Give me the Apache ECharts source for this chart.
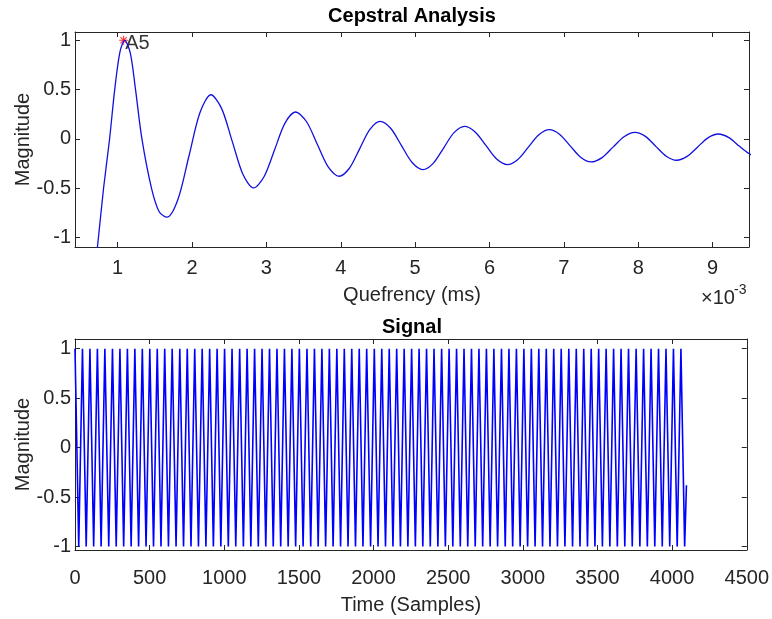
<!DOCTYPE html>
<html>
<head>
<meta charset="utf-8">
<script src="https://cdn.jsdelivr.net/npm/echarts@6/dist/echarts.min.js"></script>
<style>
html,body{margin:0;padding:0;background:#fff;}
#chart{width:772px;height:619px;}
</style>
</head>
<body>
<div id="chart"></div>
<script>
// ---- Cepstral Analysis (top): points ----
var cepX = [0.65,0.73,0.81,0.891,0.96,1.03,1.095,1.17,1.24,1.326,1.455,1.56,1.663,
  1.811,1.9585,2.106,2.254,2.397,2.5405,2.684,2.827,2.968,3.109,3.25,3.391,
  3.538,3.6845,3.831,3.978,4.116,4.254,4.392,4.530,4.673,4.8165,4.960,5.103,
  5.243,5.383,5.523,5.663,5.8075,5.952,6.0965,6.241,6.382,6.523,6.664,6.805,
  6.945,7.0855,7.226,7.366,7.514,7.6615,7.809,7.957,8.097,8.237,8.377,8.517,
  8.657,8.797,8.937,9.077,9.22,9.362,9.489,9.6];
var cepY = [-1.6,-1.08,-0.5,0,0.5,0.88,1.0,0.87,0.5,0,-0.5,-0.74,-0.793,
  -0.611,-0.173,0.266,0.448,0.310,-0.024,-0.358,-0.496,-0.383,-0.112,0.160,0.273,
  0.177,-0.053,-0.283,-0.378,-0.297,-0.1,0.097,0.178,0.106,-0.067,-0.239,-0.311,
  -0.247,-0.092,0.064,0.128,0.071,-0.066,-0.203,-0.26,-0.208,-0.083,0.042,0.094,
  0.046,-0.07,-0.185,-0.233,-0.189,-0.083,0.023,0.067,0.026,-0.075,-0.175,-0.216,
  -0.177,-0.083,0.011,0.05,0.013,-0.075,-0.148,-0.19];
var peakX = [1.08];
var peakY = [1.0];
var peakLabel = ['A5'];
var cepTicks = [1,2,3,4,5,6,7,8,9];
var magTicks = [-1,-0.5,0,0.5,1];

// ---- Signal (bottom): extrema ----
var sigT = [
0,25,50,75,100,125,150,175,200,226,
251,276,301,326,351,376,401,426,451,476,
501,526,551,576,601,626,651,677,702,727,
752,777,802,827,852,877,902,927,952,977,
1002,1027,1052,1077,1103,1128,1153,1178,1203,1228,
1253,1278,1303,1328,1353,1378,1403,1428,1453,1478,
1503,1528,1554,1579,1604,1629,1654,1679,1704,1729,
1754,1779,1804,1829,1854,1879,1904,1929,1954,1980,
2005,2030,2055,2080,2105,2130,2155,2180,2205,2230,
2255,2280,2305,2330,2355,2380,2405,2431,2456,2481,
2506,2531,2556,2581,2606,2631,2656,2681,2706,2731,
2756,2781,2806,2831,2857,2882,2907,2932,2957,2982,
3007,3032,3057,3082,3107,3132,3157,3182,3207,3232,
3257,3282,3308,3333,3358,3383,3408,3433,3458,3483,
3508,3533,3558,3583,3608,3633,3658,3683,3708,3733,
3759,3784,3809,3834,3859,3884,3909,3934,3959,3984,
4009,4034,4059,4084,4096];
var sigV = [
1,-1,1,-1,1,-1,1,-1,1,-1,
1,-1,1,-1,1,-1,1,-1,1,-1,
1,-1,1,-1,1,-1,1,-1,1,-1,
1,-1,1,-1,1,-1,1,-1,1,-1,
1,-1,1,-1,1,-1,1,-1,1,-1,
1,-1,1,-1,1,-1,1,-1,1,-1,
1,-1,1,-1,1,-1,1,-1,1,-1,
1,-1,1,-1,1,-1,1,-1,1,-1,
1,-1,1,-1,1,-1,1,-1,1,-1,
1,-1,1,-1,1,-1,1,-1,1,-1,
1,-1,1,-1,1,-1,1,-1,1,-1,
1,-1,1,-1,1,-1,1,-1,1,-1,
1,-1,1,-1,1,-1,1,-1,1,-1,
1,-1,1,-1,1,-1,1,-1,1,-1,
1,-1,1,-1,1,-1,1,-1,1,-1,
1,-1,1,-1,1,-1,1,-1,1,-1,
1,-1,1,-1,-0.38];
var timeTickStep = 500;

var AX = '#262626';
var FONT = 'Liberation Sans, Arial, sans-serif';
var FS = 20;

function zip(a, b) { var r = []; for (var i = 0; i < a.length; i++) r.push([a[i], b[i]]); return r; }

var asterisk = 'path://M-0.12,-1L0.12,-1L0.12,1L-0.12,1Z' +
  'M-1,-0.12L1,-0.12L1,0.12L-1,0.12Z' +
  'M-0.79,-0.62L-0.62,-0.79L0.79,0.62L0.62,0.79Z' +
  'M0.62,-0.79L0.79,-0.62L-0.62,0.79L-0.79,0.62Z';

function merge(a, opts) {
  for (var k in opts) {
    if (opts[k] && typeof opts[k] === 'object' && !Array.isArray(opts[k]) && a[k]) {
      for (var j in opts[k]) a[k][j] = opts[k][j];
    } else a[k] = opts[k];
  }
  return a;
}
function xAx(grid, pos, min, max, opts) {
  var labelOn = pos === 'bottom';
  var a = {
    type: 'value', gridIndex: grid, position: pos, min: min, max: max,
    axisLine: { show: true, onZero: false, lineStyle: { color: AX, width: 1 } },
    axisTick: { show: true, inside: true, length: 5, lineStyle: { color: AX } },
    axisLabel: { show: labelOn, color: AX, fontSize: FS, fontFamily: FONT, margin: 11,
                 formatter: function (v) { return String(v); } },
    splitLine: { show: false },
    nameMoveOverlap: false
  };
  return merge(a, opts);
}
function yAx(grid, pos, min, max, opts) {
  var labelOn = pos === 'left';
  var a = {
    type: 'value', gridIndex: grid, position: pos, min: min, max: max,
    axisLine: { show: true, onZero: false, lineStyle: { color: AX, width: 1 } },
    axisTick: { show: true, inside: true, length: 5, lineStyle: { color: AX }, customValues: magTicks },
    axisLabel: { show: labelOn, color: AX, fontSize: FS, fontFamily: FONT, margin: 4, customValues: magTicks,
                 formatter: function (v) { return String(v); } },
    splitLine: { show: false },
    nameMoveOverlap: false
  };
  if (labelOn) {
    a.name = 'Magnitude';
    a.nameLocation = 'middle';
    a.nameGap = 42;
    a.nameTextStyle = { color: AX, fontSize: FS, fontFamily: FONT };
  }
  return merge(a, opts);
}

var chart = echarts.init(document.getElementById('chart'), null, { renderer: 'canvas' });
chart.setOption({
  animation: false,
  backgroundColor: '#ffffff',
  title: [
    { text: 'Cepstral Analysis', left: 412, top: 6, padding: 0, textAlign: 'center',
      textStyle: { fontSize: FS, fontWeight: 'bold', color: '#000', fontFamily: FONT } },
    { text: 'Signal', left: 412, top: 317, padding: 0, textAlign: 'center',
      textStyle: { fontSize: FS, fontWeight: 'bold', color: '#000', fontFamily: FONT } },
    { text: '\u00d710', left: 701, top: 288, padding: 0,
      textStyle: { fontSize: FS, fontWeight: 'normal', color: AX, fontFamily: FONT } },
    { text: '-3', left: 734, top: 283, padding: 0,
      textStyle: { fontSize: 14, fontWeight: 'normal', color: AX, fontFamily: FONT } }
  ],
  grid: [
    { left: 75, top: 32, width: 674, height: 215, containLabel: false },
    { left: 75, top: 339, width: 674, height: 211, containLabel: false }
  ],
  xAxis: [
    xAx(0, 'bottom', 0.426, 9.49, {
      axisTick: { customValues: cepTicks }, axisLabel: { customValues: cepTicks },
      name: 'Quefrency (ms)', nameLocation: 'middle', nameGap: 38,
      nameTextStyle: { color: AX, fontSize: FS, fontFamily: FONT }
    }),
    xAx(0, 'top', 0.426, 9.49, { axisTick: { customValues: cepTicks } }),
    xAx(1, 'bottom', 0, 4500, {
      interval: timeTickStep, axisLabel: { margin: 18 },
      name: 'Time (Samples)', nameLocation: 'middle', nameGap: 45,
      nameTextStyle: { color: AX, fontSize: FS, fontFamily: FONT }
    }),
    xAx(1, 'top', 0, 4500, { interval: timeTickStep })
  ],
  yAxis: [
    yAx(0, 'left', -1.095, 1.084, {}),
    yAx(0, 'right', -1.095, 1.084, {}),
    yAx(1, 'left', -1.035, 1.098, {}),
    yAx(1, 'right', -1.035, 1.098, {})
  ],
  series: [
    { type: 'line', xAxisIndex: 0, yAxisIndex: 0, data: zip(cepX, cepY),
      showSymbol: false, smooth: 0.3, clip: true,
      lineStyle: { color: '#1010e0', width: 1.3 }, silent: true },
    { type: 'scatter', xAxisIndex: 0, yAxisIndex: 0,
      data: peakX.map(function (x, i) { return { value: [x, peakY[i]], name: peakLabel[i] }; }),
      symbol: asterisk, symbolSize: 9, itemStyle: { color: '#ff0000' },
      label: { show: true, position: 'right', distance: -3, offset: [0, 3], formatter: '{b}',
               color: '#000', fontSize: FS, fontFamily: FONT }, silent: true },
    { type: 'line', xAxisIndex: 2, yAxisIndex: 2, data: zip(sigT, sigV),
      showSymbol: false, sampling: null, clip: true,
      lineStyle: { color: '#0000ff', width: 1.6 }, silent: true }
  ]
});
</script>
</body>
</html>
